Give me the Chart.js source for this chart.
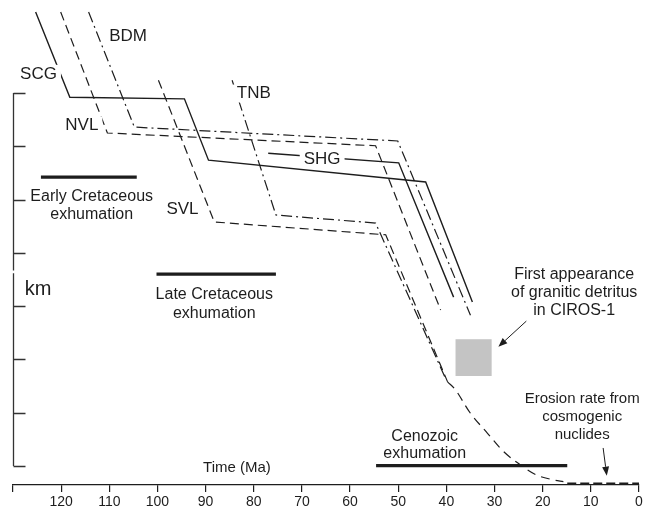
<!DOCTYPE html>
<html><head><meta charset="utf-8">
<script src="https://cdn.jsdelivr.net/npm/chart.js@4/dist/chart.umd.min.js"></script>
<style>html,body{margin:0;padding:0;background:#fff;}canvas{display:block;}</style>
</head><body>
<canvas id="c" width="649" height="508"></canvas>
<script>
// ---- data: x = age (Ma), y = depth in (unlabelled) km tick units ----
const timeTicks = [0,10,20,30,40,50,60,70,80,90,100,110,120,130];
const kmTicks = [0,1,2,3,4,5,6,7];

const scgMa = [125.3, 118.2, 94.4, 89.4, 44.3, 34.6];
const scgKm = [-1.52, 0.08, 0.11, 1.26, 1.67, 3.92];

const nvlMa = [120.1, 110.4, 54.7, 41.2];
const nvlKm = [-1.52, 0.75, 0.99, 4.07];

const bdmMa = [114.3, 104.8, 50.1, 35.0];
const bdmKm = [-1.52, 0.64, 0.90, 4.17];

const svlMa = [99.8, 88.2, 52.6, 39.75];
const svlKm = [-0.24, 2.42, 2.66, 5.42];

const svlCenozoicMa = [39.75, 38.1, 35.0, 31.5, 28.1, 24.6, 21.2, 17.7, 15.7];
const svlCenozoicKm = [5.42, 5.57, 6.01, 6.38, 6.73, 6.98, 7.17, 7.26, 7.29];

const tnbMa = [84.5, 75.4, 54.7, 40.2];
const tnbKm = [-0.24, 2.29, 2.44, 5.35];

const shgMa = [77.0, 49.9, 38.5];
const shgKm = [1.13, 1.31, 3.83];

const erosionMa = [14.9, 0];
const erosionKm = [7.336, 7.336];

const earlyCretMa = [124.2, 104.3];
const earlyCretKm = [1.58, 1.58];
const lateCretMa = [100.2, 75.4];
const lateCretKm = [3.40, 3.40];
const cenozoicMa = [54.6, 14.9];
const cenozoicKm = [6.99, 6.99];

const detritusMa = [38.1, 30.6];
const detritusKm = [4.62, 5.31];

// ---- annotation layout (text, anchor in data units) ----
const seriesLabels = [
  ['SCG', 124.7, -0.36], ['BDM', 106.1, -1.07], ['NVL', 115.7, 0.61],
  ['SVL', 94.8, 2.19], ['TNB', 80.0, 0.01], ['SHG', 65.8, 1.24]
];
const notes = [
  ['Early Cretaceous', 113.66, 1.95, 16], ['exhumation', 113.66, 2.29, 16],
  ['Late Cretaceous', 88.2, 3.79, 16], ['exhumation', 88.2, 4.14, 16],
  ['Cenozoic', 44.5, 6.44, 16], ['exhumation', 44.5, 6.77, 16],
  ['First appearance', 13.46, 3.41, 16], ['of granitic detritus', 13.46, 3.75, 16], ['in CIROS-1', 13.46, 4.09, 16],
  ['Erosion rate from', 11.8, 5.74, 15], ['cosmogenic', 11.8, 6.07, 15], ['nuclides', 11.8, 6.42, 15],
  ['Time (Ma)', 83.5, 7.04, 15], ['km', 124.8, 3.68, 20]
];
const arrows = [[23.4, 4.28, 29.2, 4.76], [7.45, 6.66, 6.69, 7.18]];

const INK = '#1d1d1d';
const FONT = "'Liberation Sans', Arial, Helvetica, sans-serif";
const pts = (xs, ys) => xs.map((x, i) => ({x, y: ys[i]}));
function ds(label, xs, ys, dash, width, extra) {
  return Object.assign({label, data: pts(xs, ys), borderColor: INK, borderWidth: width,
    borderDash: dash, pointRadius: 0, fill: false, tension: 0, borderCapStyle: 'butt'}, extra || {});
}

const annot = {
  id: 'annot',
  beforeDatasetsDraw(chart) {
    const {ctx, scales: {x, y}} = chart;
    ctx.save();
    ctx.fillStyle = '#c4c4c4';
    const x0 = x.getPixelForValue(detritusMa[0]), x1 = x.getPixelForValue(detritusMa[1]);
    const y0 = y.getPixelForValue(detritusKm[0]), y1 = y.getPixelForValue(detritusKm[1]);
    ctx.fillRect(x0, y0, x1 - x0, y1 - y0);
    ctx.restore();
  },
  afterDatasetsDraw(chart) {
    const {ctx, scales: {x, y}} = chart;
    ctx.save();
    // left bracket axis
    const ax = Math.round(x.getPixelForValue(130)) + 0.5;
    ctx.strokeStyle = '#333'; ctx.lineWidth = 1.3;
    ctx.beginPath();
    ctx.moveTo(ax, y.getPixelForValue(kmTicks[0]));
    ctx.lineTo(ax, y.getPixelForValue(3.33));
    ctx.moveTo(ax, y.getPixelForValue(3.38));
    ctx.lineTo(ax, y.getPixelForValue(kmTicks[kmTicks.length - 1]));
    kmTicks.forEach(k => {
      const py = Math.round(y.getPixelForValue(k)) + 0.5;
      ctx.moveTo(ax, py); ctx.lineTo(ax + 12, py);
    });
    ctx.stroke();
    // arrows
    ctx.strokeStyle = INK; ctx.fillStyle = INK; ctx.lineWidth = 1;
    arrows.forEach(([a, b, c, d]) => {
      const sx = x.getPixelForValue(a), sy = y.getPixelForValue(b);
      const tx = x.getPixelForValue(c), ty = y.getPixelForValue(d);
      const ang = Math.atan2(ty - sy, tx - sx), L = 9, W = 3.5;
      const bx = tx - L * Math.cos(ang), by = ty - L * Math.sin(ang);
      ctx.beginPath(); ctx.moveTo(sx, sy); ctx.lineTo(bx, by); ctx.stroke();
      ctx.beginPath();
      ctx.moveTo(tx, ty);
      ctx.lineTo(bx + W * Math.sin(ang), by - W * Math.cos(ang));
      ctx.lineTo(bx - W * Math.sin(ang), by + W * Math.cos(ang));
      ctx.closePath(); ctx.fill();
    });
    // series labels with white knock-out
    ctx.textAlign = 'center'; ctx.textBaseline = 'middle';
    ctx.font = '17px ' + FONT;
    seriesLabels.forEach(([t, a, b]) => {
      const px = x.getPixelForValue(a), py = y.getPixelForValue(b);
      const w = ctx.measureText(t).width;
      ctx.fillStyle = '#fff';
      ctx.fillRect(px - w / 2 - 4, py - 9, w + 8, 18);
      ctx.fillStyle = INK;
      ctx.fillText(t, px, py);
    });
    notes.forEach(([t, a, b, s]) => {
      ctx.font = s + 'px ' + FONT;
      ctx.fillStyle = INK;
      ctx.fillText(t, x.getPixelForValue(a), y.getPixelForValue(b));
    });
    ctx.restore();
  }
};

new Chart(document.getElementById('c'), {
  type: 'line',
  data: {
    datasets: [
      ds('SCG', scgMa, scgKm, [], 1.4),
      ds('NVL', nvlMa, nvlKm, [9, 5], 1.2),
      ds('BDM', bdmMa, bdmKm, [11, 4, 2, 4], 1.2),
      ds('SVL', svlMa, svlKm, [9, 5], 1.2),
      ds('SVL Cenozoic', svlCenozoicMa, svlCenozoicKm, [9, 6], 1.2, {tension: 0.35}),
      ds('TNB', tnbMa, tnbKm, [11, 4, 2, 4], 1.2),
      ds('SHG', shgMa, shgKm, [], 1.4),
      ds('Erosion rate', erosionMa, erosionKm, [9, 4], 3.2),
      ds('Early Cretaceous exhumation', earlyCretMa, earlyCretKm, [], 3.2),
      ds('Late Cretaceous exhumation', lateCretMa, lateCretKm, [], 3.2),
      ds('Cenozoic exhumation', cenozoicMa, cenozoicKm, [], 3.2)
    ]
  },
  options: {
    responsive: false, animation: false, devicePixelRatio: 1,
    layout: {padding: {left: 13, right: 10, top: 0, bottom: 0}},
    plugins: {legend: {display: false}, tooltip: {enabled: false}},
    scales: {
      x: {
        type: 'linear', reverse: true, min: 0, max: 130,
        afterBuildTicks: (s) => { s.ticks = timeTicks.map(v => ({value: v})); },
        afterFit: (s) => { s.height = 23; },
        ticks: {autoSkip: false, maxRotation: 0, color: INK, padding: 2,
          font: {family: FONT, size: 14, lineHeight: 1.2},
          callback: (v) => v === 130 ? '' : String(v)},
        grid: {drawOnChartArea: false, drawTicks: true, tickLength: 7, color: INK, lineWidth: 1.2},
        border: {display: true, color: INK, width: 1.3}
      },
      y: {type: 'linear', display: false, reverse: true, min: -1.745, max: 7.355}
    }
  },
  plugins: [annot]
});
</script>
</body></html>
